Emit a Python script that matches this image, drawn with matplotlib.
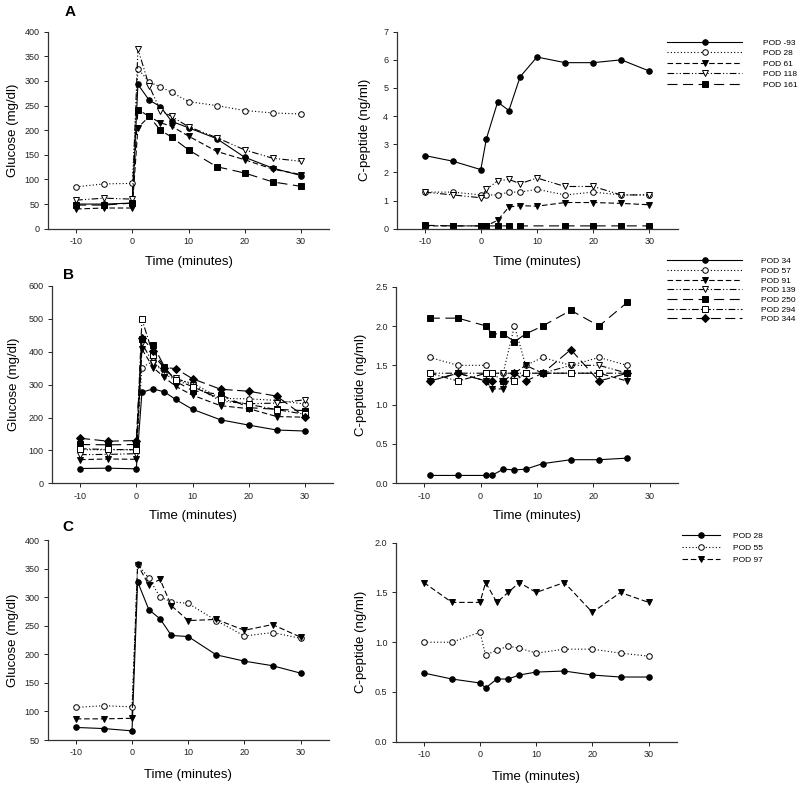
import matplotlib
matplotlib.use("Agg")
import matplotlib.pyplot as plt
import numpy as np

plt.rcParams['font.family'] = ['Liberation Sans', 'DejaVu Sans']
plt.rcParams['axes.unicode_minus'] = False

# ---------------- data ----------------
t_std = [-10, -5, 0, 1, 3, 5, 7, 10, 15, 20, 25, 30]

# Panel A
labels_A = ["POD -93", "POD 28", "POD 61", "POD 118", "POD 161"]
glu_A_m93 = [50, 50, 52, 293, 261, 248, 218, 205, 183, 145, 123, 108]
glu_A_28 = [85, 91, 92, 325, 298, 288, 277, 258, 250, 240, 235, 233]
glu_A_61 = [40, 42, 42, 205, 228, 215, 208, 188, 157, 140, 121, 110]
glu_A_118 = [58, 62, 60, 365, 290, 240, 228, 207, 185, 160, 143, 137]
glu_A_161 = [48, 48, 52, 242, 228, 200, 186, 160, 126, 113, 95, 86]

t_cp_A_161 = [-10, -5, 0, 1, 3, 5, 7, 15, 20, 25, 30]
cp_A_m93 = [2.6, 2.4, 2.1, 3.2, 4.5, 4.2, 5.4, 6.1, 5.9, 5.9, 6.0, 5.6]
cp_A_28 = [1.3, 1.3, 1.2, 1.2, 1.2, 1.3, 1.3, 1.4, 1.2, 1.3, 1.2, 1.2]
cp_A_61 = [0.1, 0.1, 0.1, 0.1, 0.3, 0.77, 0.82, 0.8, 0.93, 0.93, 0.9, 0.85]
cp_A_118 = [1.3, 1.2, 1.1, 1.4, 1.7, 1.75, 1.6, 1.8, 1.5, 1.5, 1.2, 1.2]
cp_A_161 = [0.12, 0.1, 0.1, 0.1, 0.1, 0.1, 0.1, 0.1, 0.1, 0.1, 0.1]

# Panel B
labels_B = ["POD 34", "POD 57", "POD 91", "POD 139", "POD 250", "POD 294", "POD 344"]
glu_B_34 = [45, 46, 44, 277, 287, 278, 255, 225, 193, 177, 162, 159]
glu_B_57 = [102, 102, 102, 352, 372, 332, 315, 305, 258, 257, 252, 241]
glu_B_91 = [72, 74, 73, 408, 352, 322, 295, 268, 236, 227, 203, 201]
glu_B_139 = [87, 88, 90, 426, 365, 345, 320, 300, 250, 242, 244, 254]
glu_B_250 = [118, 117, 118, 440, 420, 355, 310, 282, 270, 230, 225, 221]
glu_B_294 = [105, 103, 102, 499, 390, 350, 315, 294, 256, 240, 224, 210]
glu_B_344 = [137, 128, 130, 443, 403, 352, 349, 318, 286, 280, 265, 202]

t_cp_B = [-9, -4, 1, 2, 4, 6, 8, 11, 16, 21, 26]
cp_B_34 = [0.1, 0.1, 0.1, 0.1, 0.18, 0.17, 0.18, 0.25, 0.3, 0.3, 0.32]
cp_B_57 = [1.6, 1.5, 1.5, 1.4, 1.4, 2.0, 1.5, 1.6, 1.5, 1.6, 1.5]
cp_B_91 = [1.3, 1.4, 1.3, 1.2, 1.2, 1.4, 1.5, 1.4, 1.4, 1.4, 1.3]
cp_B_139 = [1.4, 1.4, 1.4, 1.4, 1.4, 1.4, 1.4, 1.4, 1.5, 1.5, 1.4]
cp_B_250 = [2.1, 2.1, 2.0, 1.9, 1.9, 1.8, 1.9, 2.0, 2.2, 2.0, 2.3]
cp_B_294 = [1.4, 1.3, 1.4, 1.4, 1.3, 1.3, 1.4, 1.4, 1.4, 1.4, 1.4]
cp_B_344 = [1.3, 1.4, 1.3, 1.3, 1.3, 1.4, 1.3, 1.4, 1.7, 1.3, 1.4]

# Panel C
labels_C = ["POD 28", "POD 55", "POD 97"]
glu_C_28 = [72, 70, 66, 327, 278, 262, 233, 231, 199, 188, 180, 167]
glu_C_55 = [107, 110, 108, 358, 333, 300, 292, 289, 259, 232, 238, 228]
glu_C_97 = [87, 87, 88, 357, 321, 331, 285, 259, 261, 242, 252, 230]

cp_C_28 = [0.69, 0.63, 0.59, 0.54, 0.63, 0.63, 0.67, 0.70, 0.71, 0.67, 0.65, 0.65]
cp_C_55 = [1.0, 1.0, 1.1, 0.87, 0.92, 0.96, 0.94, 0.89, 0.93, 0.93, 0.89, 0.86]
cp_C_97 = [1.6, 1.4, 1.4, 1.6, 1.4, 1.5, 1.6, 1.5, 1.6, 1.3, 1.5, 1.4]

# ---------------- styles ----------------
S_solid = dict(ls='-', marker='o', mfc='black')
S_dot = dict(ls=(0, (1, 2)), marker='o', mfc='white')
S_dash = dict(ls=(0, (5, 2.5)), marker='v', mfc='black')
S_dadd = dict(ls=(0, (6, 2, 1, 2, 1, 2)), marker='v', mfc='white')
S_long = dict(ls=(0, (9, 5)), marker='s', mfc='black')
S_dadot = dict(ls=(0, (6, 2, 1, 2)), marker='s', mfc='white')
S_longd = dict(ls=(0, (9, 4)), marker='D', mfc='black')

common = dict(color='black', lw=0.8, mec='black', mew=0.7, ms=4)

W, H = 800.0, 788.0
fig = plt.figure(figsize=(8.0, 7.88), dpi=100)

def mk_ax(x0, y0top, x1, y0bot):
    return fig.add_axes([x0 / W, 1 - y0bot / H, (x1 - x0) / W, (y0bot - y0top) / H])

def style(ax, ylim, yticks, ylabel, ylab_x, xlab_y, yfmt=None):
    ax.set_xlim(-15, 35)
    ax.set_ylim(*ylim)
    ax.set_xticks([-10, 0, 10, 20, 30])
    ax.set_yticks(yticks)
    if yfmt:
        ax.set_yticklabels([yfmt.format(v) for v in yticks])
    for s in ['top', 'right']:
        ax.spines[s].set_visible(False)
    for s in ['left', 'bottom']:
        ax.spines[s].set_linewidth(0.9)
        ax.spines[s].set_color('#333333')
    ax.tick_params(direction='out', length=3, width=0.7, labelsize=6.5, pad=3, colors='#222222')
    ax.set_xlabel("Time (minutes)", fontsize=9.5, va='center')
    ax.set_ylabel(ylabel, fontsize=9.5, va='center')
    # place labels at pixel positions
    bb = ax.get_position()
    x0p, y0p = bb.x0 * W, (1 - bb.y0) * H
    wpx, hpx = bb.width * W, bb.height * H
    ax.yaxis.set_label_coords((ylab_x - x0p) / wpx, 0.5)
    ax.xaxis.set_label_coords(0.5 - 0.0, (y0p - xlab_y) / hpx)

# Panel A
axA1 = mk_ax(48, 31.7, 329, 228.7)
axA2 = mk_ax(396.5, 31.7, 677.5, 228.7)
stylesA = [S_solid, S_dot, S_dash, S_dadd, S_long]
for y, st in zip([glu_A_m93, glu_A_28, glu_A_61, glu_A_118, glu_A_161], stylesA):
    axA1.plot(t_std, y, **st, **common)
hA = []
for t, y, st, lab in zip([t_std, t_std, t_std, t_std, t_cp_A_161],
                         [cp_A_m93, cp_A_28, cp_A_61, cp_A_118, cp_A_161], stylesA, labels_A):
    h, = axA2.plot(t, y, label=lab, **st, **common)
    hA.append(h)
style(axA1, (0, 400), np.arange(0, 401, 50), "Glucose (mg/dl)", 13, 262)
style(axA2, (0, 7), np.arange(0, 8, 1), "C-peptide (ng/ml)", 365, 262)

# Panel B
axB1 = mk_ax(52, 286, 333, 483.3)
axB2 = mk_ax(396, 286.7, 678, 483.3)
stylesB = [S_solid, S_dot, S_dash, S_dadd, S_long, S_dadot, S_longd]
for y, st in zip([glu_B_34, glu_B_57, glu_B_91, glu_B_139, glu_B_250, glu_B_294, glu_B_344], stylesB):
    axB1.plot(t_std, y, **st, **common)
hB = []
for y, st, lab in zip([cp_B_34, cp_B_57, cp_B_91, cp_B_139, cp_B_250, cp_B_294, cp_B_344], stylesB, labels_B):
    h, = axB2.plot(t_cp_B, y, label=lab, **st, **common)
    hB.append(h)
style(axB1, (0, 600), np.arange(0, 601, 100), "Glucose (mg/dl)", 14, 516)
style(axB2, (0, 2.5), np.arange(0, 2.51, 0.5), "C-peptide (ng/ml)", 361, 516, "{:.1f}")

# Panel C
axC1 = mk_ax(47.7, 540, 328.7, 740)
axC2 = mk_ax(395.7, 542.7, 676.7, 741.7)
stylesC = [S_solid, S_dot, S_dash]
for y, st in zip([glu_C_28, glu_C_55, glu_C_97], stylesC):
    axC1.plot(t_std, y, **st, **common)
hC = []
for y, st, lab in zip([cp_C_28, cp_C_55, cp_C_97], stylesC, labels_C):
    h, = axC2.plot(t_std, y, label=lab, **st, **common)
    hC.append(h)
style(axC1, (50, 400), np.arange(50, 401, 50), "Glucose (mg/dl)", 13, 775)
style(axC2, (0, 2.0), np.arange(0, 2.01, 0.5), "C-peptide (ng/ml)", 361, 777, "{:.1f}")

# Legends
def leg(handles, x, ytop, hl, htp, ls):
    fig.legend(handles=handles, loc='upper left', bbox_to_anchor=(x / W, 1 - ytop / H),
               frameon=False, fontsize=6, handlelength=hl, handletextpad=htp,
               labelspacing=ls, borderpad=0, borderaxespad=0, numpoints=1)

leg(hA, 667, 39, 9.0, 2.5, 0.32)
leg(hB, 667, 257.5, 9.0, 2.3, 0.22)
leg(hC, 681.7, 532.5, 4.6, 1.5, 0.45)

# Panel letters
for txt, x, y in [("A", 70, 12), ("B", 68, 275), ("C", 68, 527)]:
    fig.text(x / W, 1 - y / H, txt, fontsize=11, fontweight='bold', ha='center', va='center')

fig.savefig("out.png", dpi=100)
